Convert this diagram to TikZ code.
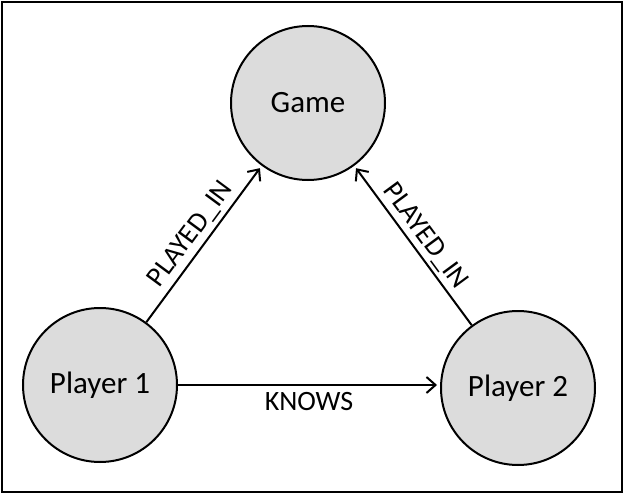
\documentclass[tikz,border=0pt]{standalone}
\usepackage{fontspec}
\setmainfont{Carlito}
\usetikzlibrary{arrows.meta}
\definecolor{nodegray}{RGB}{220,220,220}
\begin{document}
\begin{tikzpicture}[x=1pt,y=-1pt,
  ent/.style={circle,draw,line width=2pt,fill=nodegray,minimum size=154pt,inner sep=0pt,font=\fontsize{31}{35}\selectfont},
  rel/.style={line width=2pt,-{Straight Barb[length=9pt,width=16pt,line width=2pt]},shorten >=3pt},
  lbl/.style={font=\fontsize{28}{32}\selectfont}]
\useasboundingbox (0,0) rectangle (625,495);
\draw[line width=2pt] (2,2) rectangle (622,492);
\node[ent] (game) at (308,103) {Game};
\node[ent] (p1) at (100,385) {Player 1};
\node[ent] (p2) at (518,388) {Player 2};
\draw[rel] (p1) -- node[lbl,sloped,above=1pt]{PLAYED\_IN} (game);
\draw[rel] (p2) -- (game);
\path (game) -- node[lbl,sloped,above=1pt]{PLAYED\_IN} (p2);
\draw[rel] (p1.east) -- node[lbl,below=3pt]{KNOWS} (p2.west|-p1.east);
\end{tikzpicture}
\end{document}
